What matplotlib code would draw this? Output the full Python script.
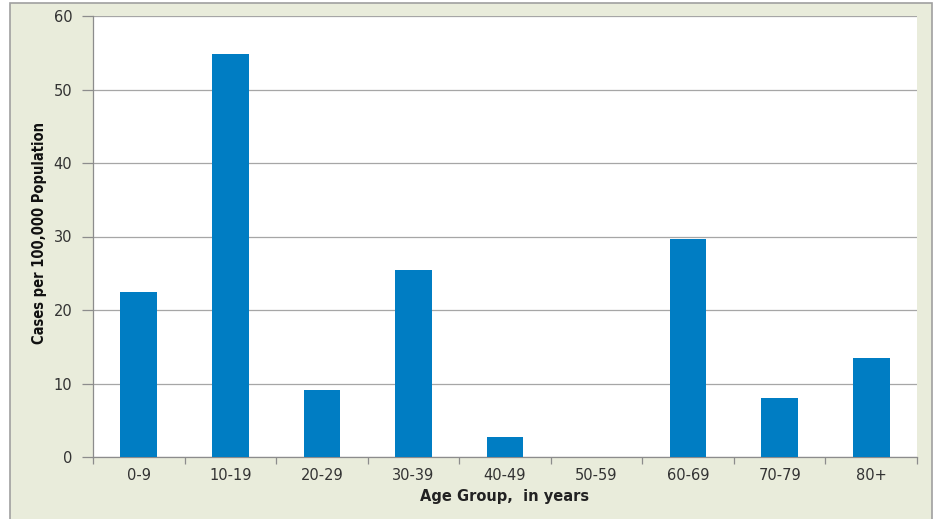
import numpy as np
import matplotlib.pyplot as plt
from matplotlib.patches import Rectangle

# age groups and rates
groups = ["0-9", "10-19", "20-29", "30-39", "40-49", "50-59", "60-69", "70-79", "80+"]
rates = [22.5, 54.8, 9.1, 25.4, 2.7, 0.0, 29.7, 8.0, 13.5]
yticks = [0, 10, 20, 30, 40, 50, 60]

fig = plt.figure(figsize=(9.36, 5.19), dpi=100)
fig.patch.set_facecolor("white")

# greenish chart panel with gray border, kept behind the axes
panel = Rectangle((10 / 936, -0.01), 922 / 936, (519 - 3) / 519 + 0.01,
                  transform=fig.transFigure, facecolor="#e9ecdb",
                  edgecolor="#a0a0a0", linewidth=1.2, zorder=-5)
fig.add_artist(panel)

ax = fig.add_axes([93 / 936, (519 - 457) / 519, (917 - 93) / 936, (457 - 16) / 519])
ax.set_zorder(2)
ax.set_facecolor("white")

x = np.arange(len(groups))
ax.bar(x, rates, width=0.4, color="#007dc3", zorder=3)

ax.set_xlim(-0.5, len(groups) - 0.5)
ax.set_ylim(0, 60)
ax.set_yticks(yticks)
ax.yaxis.grid(True, color="#a6a6a6", linewidth=0.9, zorder=0)

ax.set_xticks(x)
ax.set_xticklabels(groups)
ax.set_xticks(np.arange(len(groups) + 1) - 0.5, minor=True)
ax.tick_params(axis="x", which="major", length=0, pad=8)
ax.tick_params(axis="x", which="minor", length=5, color="#8c8c8c", width=0.9)
ax.tick_params(axis="y", length=8, color="#8c8c8c", width=0.9, pad=7)
ax.tick_params(labelsize=10.5, labelcolor="#333333")

for s in ["top", "right"]:
    ax.spines[s].set_visible(False)
for s in ["left", "bottom"]:
    ax.spines[s].set_color("#8c8c8c")
    ax.spines[s].set_linewidth(0.9)

ax.set_xlabel("Age Group,  in years", fontsize=10.5, fontweight="bold",
              color="#222222", labelpad=4)
ax.set_ylabel("Cases per 100,000 Population", fontsize=10.5, fontweight="bold",
              fontstretch="condensed", color="#111111")
ax.yaxis.set_label_coords(-0.056, 0.508)

fig.savefig("out.png", dpi=100)
